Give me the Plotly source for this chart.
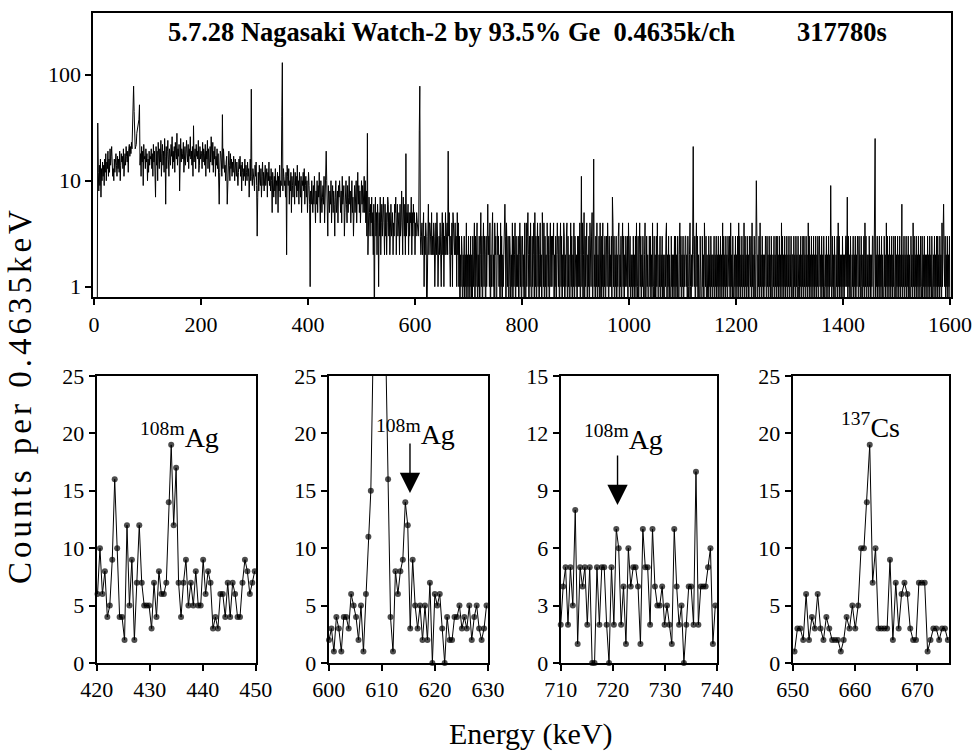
import plotly.graph_objects as go

# ---------------- data ----------------
# Top spectrum: counts per channel, sampled every 1 keV (base-36 digits); one row per start energy
spec_row_start_kev = [6, 106, 206, 306, 406, 506, 606, 706, 806, 906, 1006, 1106, 1206, 1306, 1406, 1506]
spec_rows = [
    "0oc8e9g7dafbe9gciafdjbgckehlfbdagcfiebhdgcjaeifhdkbgielhfjckmhlinkpmuqoklmsuzzukeiblfj9mghdkfiagcjeh",
    "gkdibmfjc7lejangdkfobimejcph6ldjogbkiemhqdjflcnigsekhm8jpfkignchlejoifmdkhqgjelbnfikdmhjgocelgjidnfk",
    "iembjgodkhclfqiencjglbhekdia6cjifbhdkgceafh6bcjeaidgbfcheagdbfa9cgdhbe8fcadbg9ecafbd7cgaeb9dca8ebf93",
    "7c8ea9d7bf9c8ae9bd7caf9b8da5c97b8d6a9c5b8e7a96c8db9a7c2eb9d6a8c5b97da6c9b7e8a6c97b5a9c8d69b7a58c9618",
    "6a8596b7486a597c64a85796b4875a6397586a47958637a568497a6584b679358a64957b6849a5736958a47c695847a6958b",
    "5a483625753647352604735264153724635742635247635246345243657246355263485274362535462535472536452435",
    "3425323423513243023624432523243124253123242135241325234213521324153224231524130213202130214021302130",
    "2031240312402130251302413203136231402135120423014231204130212413042130132021403124031213024130231204",
    "2041352031420312405130241302412053140312042130241313240213024213024130214302134031202413021403212031",
    "3140231402503124021304213502412031402130420314021302314203121302413021302134021302413021321304213021",
    "2031203140130241302131024013120231302140130203142021302130210213402130210312021303120310241302130213",
    "3120310241021302130241302103210312042130210312031202130213021302130214031203120321304120310213021304",
    "1302130214031203120321304120310213021304120312021320312031203102130213031203120413021302130213021302",
    "2031203120310213021303120312041302130213021302130231203120310213021302132031203102130413021203120213",
    "3120312031021302130213203120310213041302120312021330213021302130213021031204130213021302130130213021",
    "30213021302130213021031204130213021302130130213021203120312031021302130312031204130213021302130",
]
peak_kev = [7, 72, 73, 74, 75, 84, 85, 186, 240, 294, 351, 352, 434, 511, 583, 608, 609, 662,
            768, 911, 934, 969, 1120, 1238, 1377, 1408, 1460, 1510, 1588]
peak_counts = [35, 30, 40, 78, 45, 38, 52, 33, 42, 73, 40, 130, 19, 28, 18, 30, 78, 19,
               6, 11, 16, 7, 21, 10, 9, 7, 25, 6, 6]

ch_width = 0.4635
p1_start, p2_start, p3_start, p4_start = 420.15, 600.05, 710.0, 650.3
p1_counts = [6, 10, 6, 8, 4, 5, 9, 16, 10, 4, 4, 2, 12, 5, 9, 2, 7, 12, 7, 5, 5, 5, 3, 7, 4,
             8, 6, 6, 7, 14, 19, 12, 17, 7, 4, 7, 9, 5, 7, 5, 8, 5, 5, 9, 6, 8, 7, 3, 4, 3,
             6, 6, 4, 7, 4, 7, 6, 4, 4, 7, 9, 8, 6, 7, 8]
p2_counts = [2, 3, 1, 4, 3, 1, 4, 4, 3, 6, 5, 4, 2, 5, 1, 6, 11, 15, 28, 55, 78, 62, 40, 28,
             16, 4, 1, 8, 6, 8, 9, 14, 12, 3, 9, 5, 3, 5, 2, 5, 2, 7, 0, 6, 5, 6, 3, 0, 4, 2,
             2, 4, 4, 5, 3, 4, 3, 5, 2, 4, 5, 3, 2, 3, 5]
p3_counts = [2, 4, 5, 2, 5, 3, 8, 1, 5, 4, 5, 2, 5, 0, 0, 5, 2, 5, 5, 2, 0, 5, 2, 7, 6, 2,
             4, 1, 6, 4, 5, 5, 4, 1, 7, 5, 5, 2, 7, 4, 3, 3, 4, 2, 3, 2, 1, 7, 4, 2, 3, 0,
             2, 4, 4, 2, 10, 2, 4, 4, 4, 5, 6, 1, 3]
p4_counts = [1, 3, 3, 2, 6, 2, 4, 3, 6, 3, 2, 4, 3, 2, 2, 2, 1, 2, 4, 3, 5, 3, 5, 10, 10, 14,
             19, 7, 10, 3, 3, 3, 3, 9, 2, 7, 3, 6, 7, 6, 3, 2, 2, 7, 7, 7, 1, 2, 3, 3, 2, 3,
             3, 2]

# ---------------- build ----------------
spec = {}
for s, row in zip(spec_row_start_kev, spec_rows):
    for i, c in enumerate(row):
        e = s + i
        if e <= 1600:
            spec[e] = int(c, 36)
for e, c in zip(peak_kev, peak_counts):
    spec[e] = c
spec_x = sorted(spec)
spec_y = [spec[e] if spec[e] > 0 else 0.3 for e in spec_x]  # zeros drawn off the log axis bottom

FONT = "Liberation Serif, Times New Roman, DejaVu Serif, serif"
fig = go.Figure()
fig.add_trace(go.Scatter(x=spec_x, y=spec_y, mode="lines",
                         line=dict(color="black", width=1), xaxis="x", yaxis="y",
                         showlegend=False, hoverinfo="skip"))

panels = [(p1_start, p1_counts, 25), (p2_start, p2_counts, 25),
          (p3_start, p3_counts, 15), (p4_start, p4_counts, 25)]
for i, (s, cnt, ymax) in enumerate(panels, start=2):
    xs = [s + ch_width * k for k in range(len(cnt))]
    sizes = [6 if v <= ymax else 0 for v in cnt]
    fig.add_trace(go.Scatter(x=xs, y=cnt, mode="lines+markers",
                             line=dict(color="black", width=1),
                             marker=dict(color="black", size=sizes, line=dict(width=0)),
                             cliponaxis=False,
                             xaxis=f"x{i}", yaxis=f"y{i}", showlegend=False))

axis_common = dict(showline=True, linecolor="black", linewidth=2, mirror=True,
                   ticks="outside", ticklen=6, tickwidth=1.5, tickcolor="black",
                   showgrid=False, zeroline=False, automargin=False,
                   ticklabeloverflow="allow",
                   tickfont=dict(family=FONT, size=22, color="black"))

layout = dict(
    template="none",
    width=972, height=753, margin=dict(l=0, r=0, t=0, b=0, pad=0), autosize=False,
    paper_bgcolor="white", plot_bgcolor="white",
    font=dict(family=FONT, color="black"),
    xaxis=dict(domain=[0.096, 0.9781], range=[-1.3, 1601.3], anchor="y",
               tickvals=list(range(0, 1601, 200)), **axis_common),
    yaxis=dict(domain=[0.6052, 0.9831], type="log", range=[-0.1, 2.585], anchor="x",
               tickvals=[1, 10, 100], ticktext=["1", "10", "100"], **axis_common),
)
lower = [([0.0995, 0.2631], [420, 450], list(range(420, 451, 10)), 25, 5),
         ([0.3382, 0.5021], [600, 630], list(range(600, 631, 10)), 25, 5),
         ([0.5769, 0.7377], [710, 740], list(range(710, 741, 10)), 15, 3),
         ([0.8155, 0.9760], [650, 675], list(range(650, 671, 10)), 25, 5)]
for i, (dom, xr, xt, ymax, dy) in enumerate(lower, start=2):
    layout[f"xaxis{i}"] = dict(domain=dom, range=xr, anchor=f"y{i}", tickvals=xt, **axis_common)
    layout[f"yaxis{i}"] = dict(domain=[0.1195, 0.5007], range=[0, ymax], anchor=f"x{i}",
                               tickvals=list(range(0, ymax + 1, dy)), **axis_common)
fig.update_layout(**layout)

ann = []
ann.append(dict(text="<b>5.7.28 Nagasaki Watch-2 by 93.5% Ge\u00a0\u00a00.4635k/ch</b>",
                xref="paper", yref="paper", x=0.1708, y=0.9575, xanchor="left", yanchor="middle",
                showarrow=False, font=dict(family=FONT, size=26.5, color="black")))
ann.append(dict(text="<b>317780s</b>", xref="paper", yref="paper", x=0.818, y=0.9575,
                xanchor="left", yanchor="middle", showarrow=False,
                font=dict(family=FONT, size=26.5, color="black")))
ann.append(dict(text="Counts per 0.4635keV", xref="paper", yref="paper", x=0.02, y=0.476,
                xanchor="center", yanchor="middle", textangle=-90, showarrow=False,
                font=dict(family=FONT, size=33, color="black")))
ann.append(dict(text="Energy (keV)", xref="paper", yref="paper", x=0.546, y=0.025,
                xanchor="center", yanchor="middle", showarrow=False,
                font=dict(family=FONT, size=30, color="black")))
labels = [("x2", "y2", 435.7, 19.8, "<sup>108m</sup>Ag"),
          ("x3", "y3", 616.3, 20.1, "<sup>108m</sup>Ag"),
          ("x4", "y4", 722.1, 11.8, "<sup>108m</sup>Ag"),
          ("x5", "y5", 662.5, 20.7, "<sup>137</sup>Cs")]
for xr, yr, x, y, t in labels:
    ann.append(dict(text=t, xref=xr, yref=yr, x=x, y=y, showarrow=False,
                    xanchor="center", yanchor="middle",
                    font=dict(family=FONT, size=28, color="black")))
arrows = [("x3", "y3", 615.3, 14.8), ("x4", "y4", 720.9, 8.26)]
for xr, yr, x, y in arrows:
    ann.append(dict(text="", xref=xr, yref=yr, x=x, y=y, ax=0, ay=-51,
                    showarrow=True, arrowhead=2, arrowsize=2.9, arrowwidth=1.4,
                    arrowcolor="black"))
fig.update_layout(annotations=ann)

post = """
var gd = document.getElementById('{plot_id}');
gd.querySelectorAll('.annotation-text').forEach(function (t) {
  if (t.textContent.indexOf('Counts per') === 0) {
    t.setAttribute('letter-spacing', '4px');
    t.style.letterSpacing = '4px';
  }
});
"""
fig.write_html("out.html", post_script=post)
